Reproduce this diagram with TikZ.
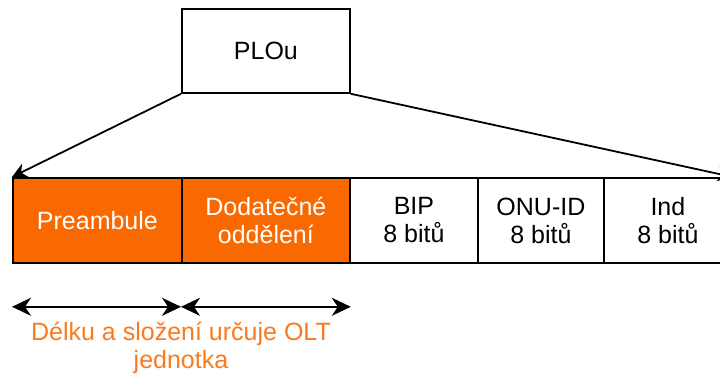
\documentclass[tikz,border=0pt]{standalone}
\usepackage{fontspec}
\setmainfont{Liberation Sans}
\usetikzlibrary{arrows.meta,calc}
\definecolor{fillorange}{HTML}{FA6800}
\definecolor{textorange}{HTML}{FA7A1E}
\tikzset{
  frame/.style={draw=black, line width=1.8pt},
  cell/.style={frame, anchor=north west, minimum height=85pt, inner sep=0pt,
    align=center, font=\fontsize{25}{28}\selectfont},
  hot/.style={cell, fill=fillorange, text=white},
  plain/.style={cell, fill=white, text=black},
  fan/.style={line width=1.8pt, -{Stealth[length=15pt,width=15pt,inset=5pt]}},
  span/.style={line width=1.8pt, {Stealth[length=19pt,width=18pt,inset=6pt]}-{Stealth[length=19pt,width=18pt,inset=6pt]}},
}
\begin{document}
\begin{tikzpicture}[x=1pt,y=-1pt]
  \useasboundingbox (0,0) rectangle (720,377);

  % header block
  \node[plain, minimum width=168pt, minimum height=84pt] (plou) at (181,8) {PLOu};

  % frame fields
  \node[hot,   minimum width=169pt] (pre) at (12,177)  {Preambule};
  \node[hot,   minimum width=168pt] (odd) at (181,177) {Dodatečné\\oddělení};
  \node[plain, minimum width=128pt] (bip) at (349,177) {BIP\\8 bitů};
  \node[plain, minimum width=126pt] (onu) at (477,177) {ONU-ID\\8 bitů};
  \node[plain, minimum width=128pt] (ind) at (603,177) {Ind\\8 bitů};

  % expansion lines
  \draw[fan] (plou.south west) -- (pre.north west);
  \draw[fan] (plou.south east) -- (ind.north east);

  % length markers
  \coordinate (m0) at ($(pre.south west)+(0,43)$);
  \coordinate (m1) at ($(odd.south west)+(0,43)$);
  \coordinate (m2) at ($(odd.south east)+(0,43)$);
  \draw[span] (m0) -- (m1);
  \draw[span] (m1) -- (m2);

  \node[text=textorange, align=center, font=\fontsize{25}{28}\selectfont, anchor=north]
    (note) at ($(m1)+(0,12)$) {Délku a složení určuje OLT\\jednotka};
\end{tikzpicture}
\end{document}
